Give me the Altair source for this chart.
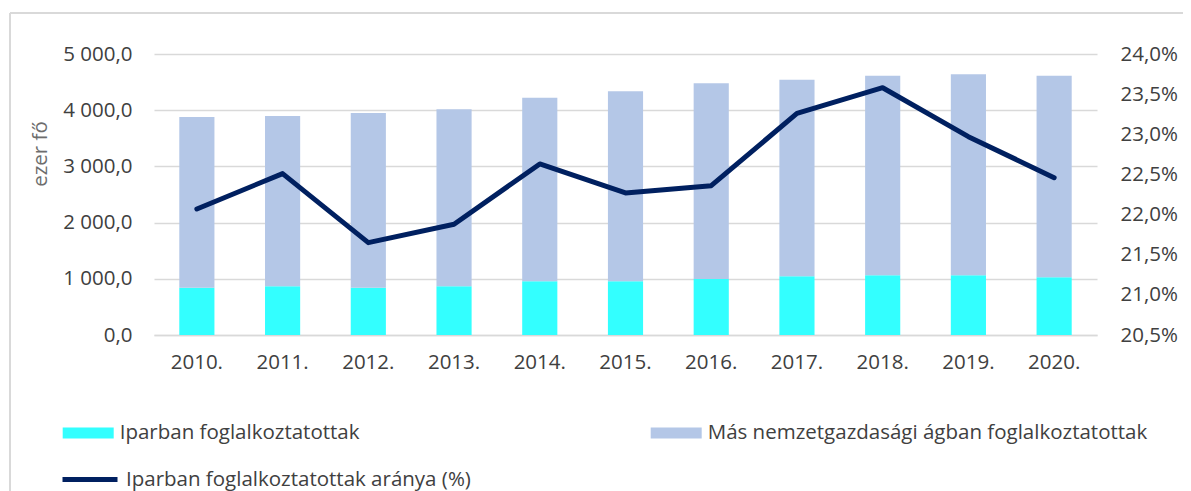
import altair as alt
import pandas as pd

years = ['2010.', '2011.', '2012.', '2013.', '2014.', '2015.', '2016.', '2017.', '2018.', '2019.', '2020.']
iparban = [842, 866, 842, 866, 955, 955, 996, 1044, 1062, 1062, 1027]
mas = [3037, 3031, 3108, 3150, 3268, 3381, 3482, 3499, 3552, 3576, 3587]
arany = [22.07, 22.51, 21.65, 21.88, 22.63, 22.27, 22.36, 23.26, 23.58, 22.97, 22.46]

bar_series = ['Iparban foglalkoztatottak', 'Más nemzetgazdasági ágban foglalkoztatottak']
line_series = 'Iparban foglalkoztatottak aránya (%)'
y_title = 'ezer fő'
left_ticks = [0, 1000, 2000, 3000, 4000, 5000]
right_ticks = [20.5, 21.0, 21.5, 22.0, 22.5, 23.0, 23.5, 24.0]

rows = []
for i, yr in enumerate(years):
    rows.append({'year': yr, 'series': bar_series[0], 'value': iparban[i], 'ord': 0})
    rows.append({'year': yr, 'series': bar_series[1], 'value': mas[i], 'ord': 1})
bars_df = pd.DataFrame(rows)
line_df = pd.DataFrame({'year': years, 'arany': arany, 'series': [line_series] * len(years)})
frame_df = pd.DataFrame({'k': [0]})

FONT = 'Open Sans'
FS = 20.5
LFS = 20.5
TXT = '#404040'
GRID = '#d9d9d9'

x_enc = alt.X('year:N', sort=years,
              scale=alt.Scale(paddingInner=0.59, paddingOuter=0.295),
              axis=alt.Axis(title=None, labelAngle=0, labelPadding=17, ticks=False,
                            domainColor=GRID, domainWidth=1.5, labelColor=TXT,
                            labelFontSize=FS, labelFont=FONT, grid=False))

frame_top = alt.Chart(frame_df).mark_rule(color=GRID, strokeWidth=2).encode(
    x=alt.value(-144), x2=alt.value(1040), y=alt.value(-41))
frame_left = alt.Chart(frame_df).mark_rule(color=GRID, strokeWidth=2).encode(
    x=alt.value(-144), y=alt.value(-41), y2=alt.value(440))
title_txt = alt.Chart(frame_df).mark_text(
    text=y_title, angle=270, font=FONT, fontSize=FS, color='#6d6d6d',
    align='center', baseline='middle').encode(x=alt.value(-113), y=alt.value(100))

bars = alt.Chart(bars_df).mark_bar().encode(
    x=x_enc,
    y=alt.Y('value:Q', stack='zero',
            scale=alt.Scale(domain=[0, 5000], nice=False),
            axis=alt.Axis(values=left_ticks,
                          labelExpr="replace(replace(format(datum.value, ',.1f'), ',', ' '), '.', ',')",
                          title=None,
                          labelFont=FONT, labelFontSize=FS, labelColor=TXT, labelPadding=22,
                          domain=False, ticks=False, grid=True, gridColor=GRID, gridWidth=1.5)),
    color=alt.Color('series:N',
                    scale=alt.Scale(domain=bar_series, range=['#33ffff', '#b4c7e7']),
                    legend=alt.Legend(title=None, orient='none', legendX=-91.3, legendY=353.5,
                                      direction='horizontal', columns=2, columnPadding=291,
                                      symbolType='M-1,-0.2157H1V0.2157H-1Z', symbolSize=2601,
                                      symbolStrokeWidth=0, labelFont=FONT, labelFontSize=LFS,
                                      labelColor=TXT, labelOffset=6, padding=0, labelLimit=700)),
    order=alt.Order('ord:Q')
)

line = alt.Chart(line_df).mark_line(strokeWidth=5, strokeCap='round', strokeJoin='round').encode(
    x=x_enc,
    y=alt.Y('arany:Q',
            scale=alt.Scale(domain=[20.5, 24.0], nice=False, zero=False),
            axis=alt.Axis(orient='right', values=right_ticks,
                          labelExpr="replace(format(datum.value, '.1f'), '.', ',') + '%'",
                          title=None, grid=False, domain=False, ticks=False, labelPadding=23,
                          labelFont=FONT, labelFontSize=FS, labelColor=TXT)),
    color=alt.Color('series:N',
                    scale=alt.Scale(domain=[line_series], range=['#002060']),
                    legend=alt.Legend(title=None, orient='none', legendX=-94, legendY=395.5,
                                      symbolType='stroke', symbolSize=3025, symbolStrokeWidth=5,
                                      labelFont=FONT, labelFontSize=LFS, labelColor=TXT,
                                      labelOffset=6, padding=0, labelLimit=700))
)

chart = alt.layer(frame_top, frame_left, title_txt, bars, line).resolve_scale(
    y='independent', color='independent'
).properties(
    width=943, height=281,
    autosize=alt.AutoSizeParams(type='none'),
    padding={'left': 146, 'top': 46, 'right': 86, 'bottom': 156},
    background='white'
).configure_view(strokeWidth=0)

chart.save('out.html', embed_options={'renderer': 'svg', 'actions': False})
